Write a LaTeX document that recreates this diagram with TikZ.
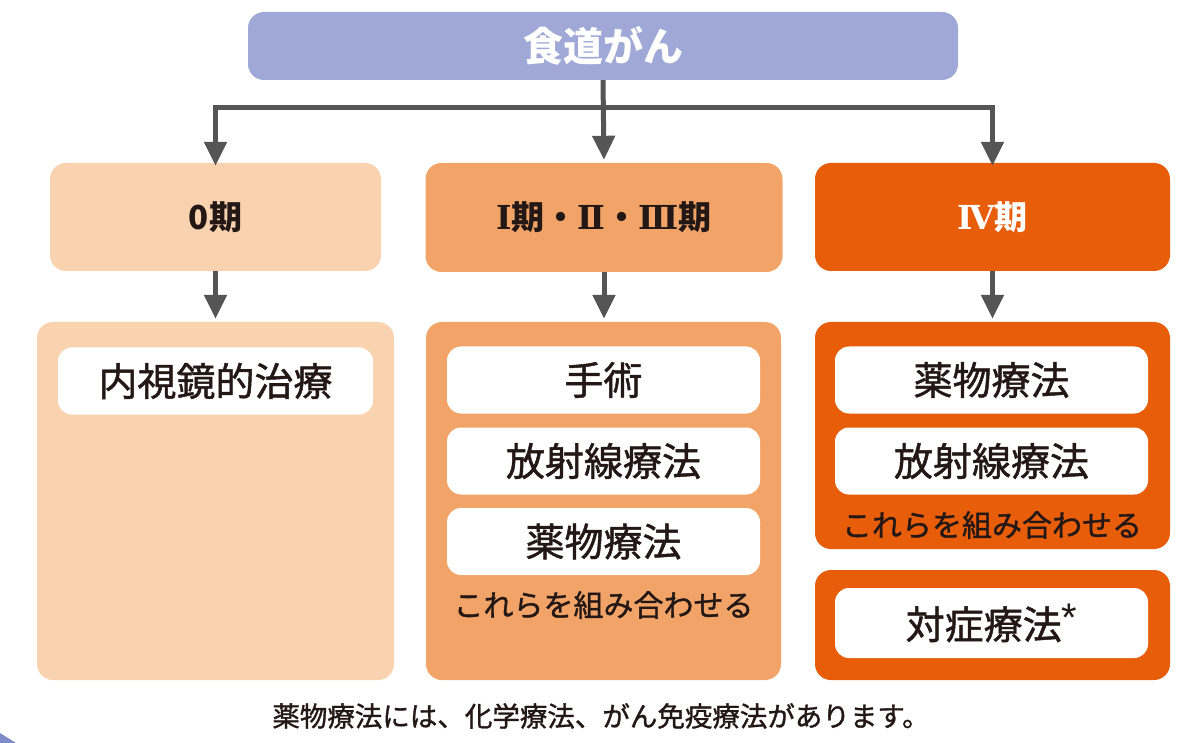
\documentclass[tikz,border=0pt]{standalone}
\usepackage{fontspec}
\setmainfont{Noto Sans CJK JP}
\newfontfamily\jpmid{Noto Sans CJK JP}[FakeBold=1.2]
\newfontfamily\numserif{DejaVu Serif}
\newfontfamily\latinsans{Liberation Sans}
\usetikzlibrary{arrows.meta}

\definecolor{headblue}{HTML}{9FA8D6}
\definecolor{cornerblue}{HTML}{7F8AC8}
\definecolor{paleorange}{HTML}{F9D3B0}
\definecolor{midorange}{HTML}{F2A468}
\definecolor{deeporange}{HTML}{E85D0A}
\definecolor{arrowgray}{HTML}{555555}
\definecolor{inkbrown}{HTML}{231815}

\newcommand{\fsz}[1]{\fontsize{#1}{#1}\selectfont}
\newcommand{\rnum}[1]{{\numserif\bfseries #1}}

\begin{document}
\begin{tikzpicture}[x=1pt, y=-1pt,
  panel/.style={rounded corners=16pt, inner sep=0pt, text=inkbrown},
  card/.style={fill=white, rounded corners=14pt, inner sep=0pt,
    minimum width=313pt, minimum height=67pt, text=inkbrown, font=\jpmid\fsz{39}},
  combo/.style={text=inkbrown, font=\jpmid\fsz{30}},
  flow/.style={draw=arrowgray, line width=5pt, shorten >=3pt,
    -{Triangle[width=22pt,length=24pt]}}]

  \useasboundingbox (0,0) rectangle (1200,743);

  % --- Top: disease ---
  \node[panel, fill=headblue, text=white, minimum width=710pt, minimum height=68pt,
    font=\fsz{40}\bfseries] (cancer) at (603,46) {食道がん};

  % --- Stages ---
  \node[panel, fill=paleorange, minimum width=331pt, minimum height=108pt,
    font=\fsz{33}\bfseries] (stage0) at (215.5,217) {0期};
  \node[panel, fill=midorange, minimum width=357pt, minimum height=109pt,
    font=\fsz{33}\bfseries] (stage1) at (604,217.5) {\rnum{Ⅰ}期・\rnum{Ⅱ}・\rnum{Ⅲ}期};
  \node[panel, fill=deeporange, text=white, minimum width=355pt, minimum height=108pt,
    font=\fsz{33}\bfseries] (stage4) at (992.5,217) {\rnum{Ⅳ}期};

  % --- Branch arrows ---
  \coordinate (split) at (603,108);
  \draw[flow] (cancer.south) -- (stage1.north);
  \draw[flow, shorten >=0pt] (split) -| ([yshift=-3pt]stage0.north);
  \draw[flow, shorten >=0pt] (split) -| ([yshift=-3pt]stage4.north);

  % --- Treatment panels ---
  \node[panel, fill=paleorange, minimum width=357pt, minimum height=358pt] (treat0) at (215.5,501) {};
  \node[panel, fill=midorange, minimum width=355pt, minimum height=358pt] (treat1) at (603.5,501) {};
  \node[panel, fill=deeporange, minimum width=355pt, minimum height=227pt] (treat4) at (992.5,435.5) {};
  \node[panel, fill=deeporange, minimum width=355pt, minimum height=110pt] (relief) at (992.5,625) {};

  \draw[flow] (stage0.south) -- (treat0.north -| stage0.south);
  \draw[flow] (stage1.south) -- (treat1.north -| stage1.south);
  \draw[flow] (stage4.south) -- (treat4.north -| stage4.south);

  % --- Stage 0 ---
  \node[card, minimum width=315pt] (endo) at (215.5,381) {内視鏡的治療};

  % --- Stage I-III ---
  \node[card] (surgery) at (603.5,380) {手術};
  \node[card] (radio1) at (603.5,461) {放射線療法};
  \node[card] (drug1) at (603.5,541.5) {薬物療法};
  \node[combo] (mix1) at (603.5,605) {これらを組み合わせる};

  % --- Stage IV ---
  \node[card] (drug4) at (991.5,380) {薬物療法};
  \node[card] (radio4) at (991.5,461) {放射線療法};
  \node[combo] (mix4) at (992,525) {これらを組み合わせる};
  \node[card, minimum height=70pt] (palliative) at (991.5,623)
    {対症療法\raisebox{0.2em}{\latinsans\fsz{40}*}};

  % --- Note ---
  \node[text=inkbrown, font=\jpmid\fsz{27.5}] (note) at (601,716)
    {薬物療法には、化学療法、がん免疫療法があります。};

  % corner mark
  \fill[cornerblue] (0,733) -- (16,743) -- (0,743) -- cycle;

\end{tikzpicture}
\end{document}
